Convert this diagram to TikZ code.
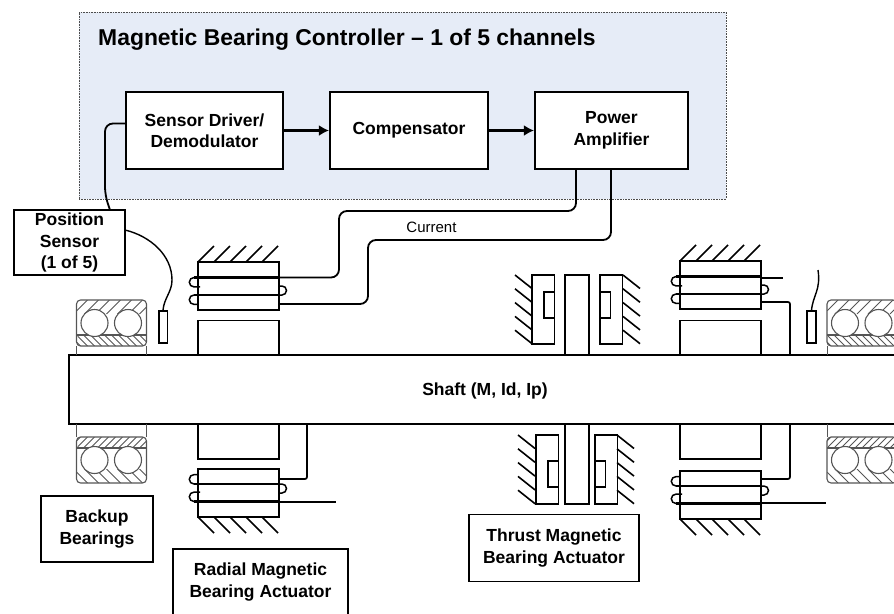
\documentclass[tikz,border=0pt]{standalone}
\usepackage{fontspec}
\setmainfont{Liberation Sans}
\usetikzlibrary{arrows.meta}
\definecolor{panelblue}{HTML}{E6ECF7}
\definecolor{racegray}{HTML}{555555}
\tikzset{
    blockbox/.style={draw, line width=2.2pt, fill=white, align=center, inner sep=0pt, font=\fontsize{17.5}{21.5}\selectfont\bfseries},
    tagbox/.style={draw, line width=1.7pt, fill=white, align=center, inner sep=0pt, font=\fontsize{17.5}{21.5}\selectfont\bfseries},
    part/.style={line width=1.6pt},
    wire/.style={line width=1.8pt, rounded corners=8pt},
    backupbearing/.pic={
        \begin{scope}
            \clip[rounded corners=4pt] (0,0) rectangle (70,14);
            \foreach \h in {-14,-3,...,70} \draw[racegray, line width=1pt] (\h,14) -- (\h+14,0);
        \end{scope}
        \begin{scope}
            \clip[rounded corners=4pt] (0,35) rectangle (70,46);
            \foreach \h in {-14,-7,...,70} \draw[racegray, line width=1pt] (\h,35) -- (\h+11,46);
        \end{scope}
        \draw[racegray, line width=1.1pt, rounded corners=4pt] (0,0) rectangle (70,46);
        \draw[racegray, line width=1.1pt] (0,35) -- (70,35);
        \draw[racegray, line width=1.1pt, fill=white] (18,23) circle (13.5);
        \draw[racegray, line width=1.1pt, fill=white] (51.5,23) circle (13.5);
    },
    radialstator/.pic={
        \draw[part] (0,0) rectangle (81,48);
        \foreach \h in {0,16,...,64} \draw[part] (\h,0) -- (\h+16,-16);
        \draw[line width=2.2pt] (-4,15.5) -- (81,15.5);
        \draw[line width=2.2pt] (-4,33) -- (81,33);
        \draw[line width=1.5pt] (-4,15.5) arc (270:90:4.7) -- (2,24.9);
        \draw[line width=1.5pt] (-4,33) arc (270:90:4.7) -- (0,42.4);
        \draw[line width=1.5pt] (81,24) -- (84,24) arc (-90:90:4.5) -- (81,33);
    }
}
\begin{document}
\begin{tikzpicture}[x=1pt, y=-1pt]
    \useasboundingbox (0,0) rectangle (894,613);
    \clip (0,0) rectangle (894,613);

    % controller
    \node (panel) [draw=black!70, densely dotted, line width=0.6pt, fill=panelblue, minimum width=647, minimum height=187, inner sep=0pt] at (402.5,105.5) {};
    \node (title) [anchor=west, inner sep=0pt, font=\fontsize{22.9}{26}\selectfont\bfseries] at (98,39.5) {Magnetic Bearing Controller -- 1 of 5 channels};
    \node (driver) [blockbox, minimum width=157, minimum height=77] at (204.5,130.5) {Sensor Driver/\\Demodulator};
    \node (comp) [blockbox, minimum width=158, minimum height=77] at (409,130.5) {Compensator};
    \node (amp) [blockbox, minimum width=153, minimum height=77] at (611.5,130.5) {Power\\Amplifier};
    \draw[line width=2.2pt, -{Latex[length=10pt,width=11pt]}] (driver) -- (comp);
    \draw[line width=2.2pt, -{Latex[length=10pt,width=11pt]}] (comp) -- (amp);

    % shaft
    \draw[line width=2pt] (900,355) -- (69,355) -- (69,424) -- (900,424);
    \node (shaft) [inner sep=0pt, font=\fontsize{17.5}{20}\selectfont\bfseries] at (485,391) {Shaft (M, Id, Ip)};

    % backup bearings
    \pic at (76.5,300) {backupbearing};
    \pic at (827,300) {backupbearing};
    \pic[yscale=-1] at (76.5,483) {backupbearing};
    \pic[yscale=-1] at (827,483) {backupbearing};
    \foreach \x in {76.5,146.5,827} {
        \draw[racegray, line width=0.7pt] (\x,346) -- (\x,355);
        \draw[racegray, line width=0.7pt] (\x,424) -- (\x,437);
    }

    % radial actuators
    \pic at (198,262) {radialstator};
    \pic at (680,261) {radialstator};
    \pic[yscale=-1] at (198,517) {radialstator};
    \pic[yscale=-1] at (680,519) {radialstator};
    \foreach \x in {198,680} {
        \draw[part] (\x,320.5) rectangle +(81,34.5);
        \draw[part] (\x,424) rectangle +(81,35);
    }

    % thrust actuator
    \draw[part] (565,275) rectangle (589,355);
    \draw[part] (565,424) rectangle (589,504);
    \foreach \ox/\oy/\nx/\ny/\hx in {532/275/544/292/515, 600/275/600/292/623, 536/435/548/461/518, 595/435/595/461/617} {
        \draw[part] (\ox,\oy) rectangle +(22.5,69);
        \draw[part] (\nx,\ny) rectangle +(10.5,26);
        \foreach \k in {0,...,4} \draw[part] (\hx,\oy+13.8*\k) -- +(17,13.5);
    }

    % position sensors
    \node (sensorL) [draw, line width=1.5pt, minimum width=8.5, minimum height=32, inner sep=0pt] at (163,327) {};
    \node (sensorR) [draw, line width=1.5pt, minimum width=9, minimum height=32, inner sep=0pt] at (811.5,327) {};

    % labels
    \node (position) [tagbox, minimum width=111, minimum height=65] at (69.5,242.5) {Position\\Sensor\\(1 of 5)};
    \node (backup) [tagbox, minimum width=112, minimum height=66] at (97,529) {Backup\\Bearings};
    \node (radial) [tagbox, minimum width=175, minimum height=66] at (260.5,582) {Radial Magnetic\\Bearing Actuator};
    \node (thrust) [tagbox, minimum width=170, minimum height=67] at (554,548) {Thrust Magnetic\\Bearing Actuator};
    \node (current) [inner sep=0pt, font=\fontsize{15}{17}\selectfont] at (431.5,227) {Current};

    % wires
    \coordinate (driverin) at (126,123.5);
    \coordinate (positionout) at (110,210);
    \coordinate (positionside) at (125,230);
    \coordinate (ampA) at (576,169);
    \coordinate (ampB) at (611,169);
    \coordinate (coilA) at (279,277.5);
    \coordinate (coilB) at (279,304);
    \coordinate (coilC) at (279,479);
    \coordinate (coilD) at (279,502);
    \coordinate (coilE) at (761,302);
    \coordinate (coilF) at (761,479);
    \coordinate (coilG) at (761,278);
    \coordinate (coilH) at (761,503);
    \coordinate (freeD) at (336,502);
    \coordinate (freeG) at (783,278);
    \coordinate (freeH) at (826,503);
    \coordinate (freeR) at (818,270);
    \draw[wire] (driverin) -- (105,123.5) -- (105,195) -- (positionout);
    \draw[line width=1.4pt] (positionside) .. controls (150,236) and (172,255) .. (172,280) .. controls (172,292) and (164,298) .. (sensorL.north);
    \draw[line width=1.4pt] (sensorR.north) .. controls (813,295) and (821,290) .. (freeR);
    \draw[wire] (ampA) -- (576,211) -- (339,211) -- (339,277.5) -- (coilA);
    \draw[wire] (ampB) -- (611,240) -- (368,240) -- (368,304) -- (coilB);
    \draw[line width=1.7pt, rounded corners=2pt] (coilC) -- (307,479) -- (307,424);
    \draw[line width=1.7pt] (coilD) -- (freeD);
    \draw[line width=1.7pt, rounded corners=2pt] (coilE) -- (790,302) -- (790,355);
    \draw[line width=1.7pt, rounded corners=2pt] (coilF) -- (790,479) -- (790,424);
    \draw[line width=1.7pt] (coilG) -- (freeG);
    \draw[line width=1.7pt] (coilH) -- (freeH);
\end{tikzpicture}
\end{document}
